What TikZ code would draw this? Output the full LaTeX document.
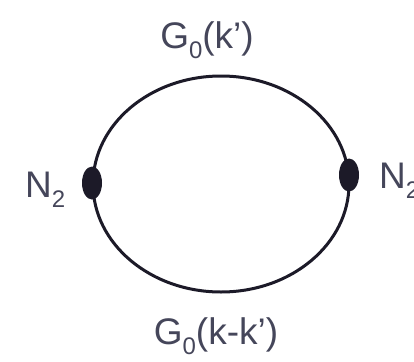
\documentclass[tikz,border=0pt]{standalone}
\usepackage{fontspec}
\setmainfont{Liberation Sans}
\usetikzlibrary{shapes.geometric}
\definecolor{inkc}{HTML}{1C1A28}
\definecolor{txtc}{HTML}{45465A}
\newcommand{\lbl}[2]{#1\raisebox{-0.28em}{\fontsize{24}{24}\selectfont #2}}
\begin{document}
\begin{tikzpicture}[x=1pt,y=-1pt,
  loopst/.style={draw=inkc,line width=3pt,ellipse,inner sep=0pt,minimum width=256pt,minimum height=216pt},
  blob/.style={fill=inkc,ellipse,inner sep=0pt,minimum width=20pt,minimum height=33pt},
  txt/.style={text=txtc,inner sep=0pt,font=\fontsize{37}{40}\selectfont}]
\useasboundingbox (0,0) rectangle (414,361);
\fill[white] (0,0) rectangle (414,361);
\node[loopst] (loop) at (221,184) {};
\node[blob] (bl) at (92,183) {};
\node[blob] (br) at (349,175) {};
\node[txt] (top) at (207,40) {\lbl{G}{0}(k')};
\node[txt] (bot) at (216,336) {\lbl{G}{0}(k-k')};
\node[txt,anchor=west] (nl) at (25,190) {\lbl{N}{2}};
\node[txt,anchor=west] (nr) at (379,181) {\lbl{N}{2}};
\end{tikzpicture}
\end{document}
